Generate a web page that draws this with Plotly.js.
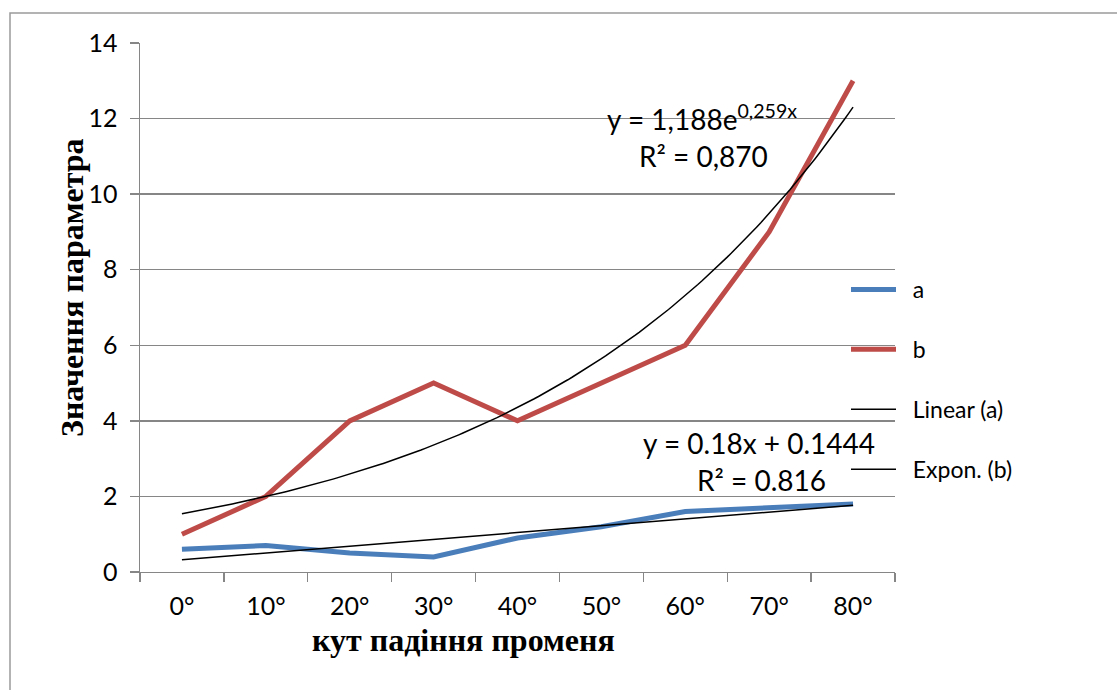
<!DOCTYPE html>
<html>
<head>
<meta charset="utf-8">
<script src="https://cdn.plot.ly/plotly-3.0.1.min.js"></script>
<style>
html,body{margin:0;padding:0;background:#fff;}
#chart{width:1117px;height:690px;}
</style>
</head>
<body>
<div id="chart"></div>
<script>
// ---- data ----
const categories = ["0°","10°","20°","30°","40°","50°","60°","70°","80°"];
const seriesA = [0.6, 0.7, 0.5, 0.4, 0.9, 1.2, 1.6, 1.7, 1.8];
const seriesB = [1, 2, 4, 5, 4, 5, 6, 9, 13];
const yTicks = [0, 2, 4, 6, 8, 10, 12, 14];
const legendNames = ["a", "b", "Linear (a)", "Expon. (b)"];
const eqExpText = "y = 1,188e<sup>0,259x</sup>";
const r2ExpText = "R² = 0,870";
const eqLinText = "y = 0.18x + 0.1444";
const r2LinText = "R² = 0.816";
const xTitle = "кут падіння променя";
const yTitle = "Значення параметра";

// positions 1..n (Excel trendline x)
const xs = categories.map((_, i) => i + 1);

// least-squares fit
function linFit(x, y){
  const n = x.length;
  const mx = x.reduce((s,v)=>s+v,0)/n, my = y.reduce((s,v)=>s+v,0)/n;
  let sxy=0, sxx=0;
  for(let i=0;i<n;i++){ sxy+=(x[i]-mx)*(y[i]-my); sxx+=(x[i]-mx)*(x[i]-mx); }
  const m = sxy/sxx; return {m, b: my - m*mx};
}
const lin = linFit(xs, seriesA);
const expF = linFit(xs, seriesB.map(Math.log));
const trendX = [];
for(let t = 1; t <= xs.length + 1e-9; t += 0.05) trendX.push(+t.toFixed(3));
const linY = trendX.map(t => lin.m*t + lin.b);
const expY = trendX.map(t => Math.exp(expF.b) * Math.exp(expF.m*t));

// ---- layout helpers (pixel -> paper) ----
const W = 1117, H = 690;
const L = 140, R = 895, T = 43, B = 572;
const pw = R - L, ph = B - T;
const px = v => (v - L)/pw;
const py = v => (B - v)/ph;

const grid = '#868686';
const pad = '\u00a0\u00a0';
const traces = [
  {x: xs, y: seriesA, name: pad + legendNames[0], mode: 'lines', legendgroup: 'g1',
   line: {color: '#4A7EBB', width: 5}},
  {x: xs, y: seriesB, name: pad + legendNames[1], mode: 'lines', legendgroup: 'g2',
   line: {color: '#BE4B48', width: 5}},
  {x: trendX, y: linY, name: pad + legendNames[2], mode: 'lines', legendgroup: 'g3',
   line: {color: '#000000', width: 1.5}},
  {x: trendX, y: expY, name: pad + legendNames[3], mode: 'lines', legendgroup: 'g4',
   line: {color: '#000000', width: 1.5}}
];

const sans = 'Lato, "Open Sans", sans-serif';
const annFont = {family: sans, size: 28, color: '#000'};
const titleFont = {family: '"Liberation Serif", "Times New Roman", serif', size: 32, color: '#000'};

const layout = {
  width: W, height: H,
  margin: {l: L, r: W - R, t: T, b: H - B, pad: 0},
  paper_bgcolor: '#fff', plot_bgcolor: '#fff',
  showlegend: true,
  legend: {
    x: px(846), xanchor: 'left', y: py(268), yanchor: 'top',
    bgcolor: 'rgba(0,0,0,0)', borderwidth: 0,
    traceorder: 'grouped', tracegroupgap: 27,
    font: {family: sans, size: 23, color: '#000'},
    itemwidth: 45
  },
  xaxis: {
    type: 'linear', range: [0.5, xs.length + 0.5],
    tickvals: xs, ticktext: categories, ticks: '',
    showgrid: false, zeroline: false,
    showline: true, linecolor: grid, linewidth: 1.4,
    tickfont: {family: sans, size: 25, color: '#000'},
    ticklabelstandoff: 12,
    minor: {ticks: 'outside', tick0: 0.5, dtick: 1, ticklen: 9, tickcolor: grid, tickwidth: 1.4, showgrid: false},
    fixedrange: true
  },
  yaxis: {
    range: [0, 14], tickvals: yTicks, ticks: 'outside', ticklen: 9,
    tickcolor: grid, tickwidth: 1.4,
    showgrid: true, gridcolor: grid, gridwidth: 1.4,
    zeroline: false, showline: true, linecolor: grid, linewidth: 1.4,
    tickfont: {family: sans, size: 25, color: '#000'},
    ticklabelstandoff: 7,
    fixedrange: true
  },
  annotations: [
    {xref: 'paper', yref: 'paper', x: px(702), y: py(117), text: eqExpText, showarrow: false,
     font: annFont, xanchor: 'center', yanchor: 'middle'},
    {xref: 'paper', yref: 'paper', x: px(703), y: py(156), text: r2ExpText, showarrow: false,
     font: annFont, xanchor: 'center', yanchor: 'middle'},
    {xref: 'paper', yref: 'paper', x: px(759), y: py(443), text: eqLinText, showarrow: false,
     font: annFont, xanchor: 'center', yanchor: 'middle'},
    {xref: 'paper', yref: 'paper', x: px(761), y: py(480), text: r2LinText, showarrow: false,
     font: annFont, xanchor: 'center', yanchor: 'middle'},
    {xref: 'paper', yref: 'paper', x: px(463), y: py(640), text: '<b>' + xTitle + '</b>', showarrow: false,
     font: titleFont, xanchor: 'center', yanchor: 'middle'},
    {xref: 'paper', yref: 'paper', x: px(72), y: py(288), text: '<b>' + yTitle + '</b>', showarrow: false,
     font: titleFont, xanchor: 'center', yanchor: 'middle', textangle: -90}
  ],
  shapes: [
    {type: 'rect', xref: 'paper', yref: 'paper', layer: 'below',
     x0: px(10), x1: px(1140), y0: py(710), y1: py(13),
     line: {color: '#9a9a9a', width: 1.5}, fillcolor: 'rgba(0,0,0,0)'}
  ]
};

Plotly.newPlot('chart', traces, layout, {displayModeBar: false, staticPlot: true});
</script>
</body>
</html>
